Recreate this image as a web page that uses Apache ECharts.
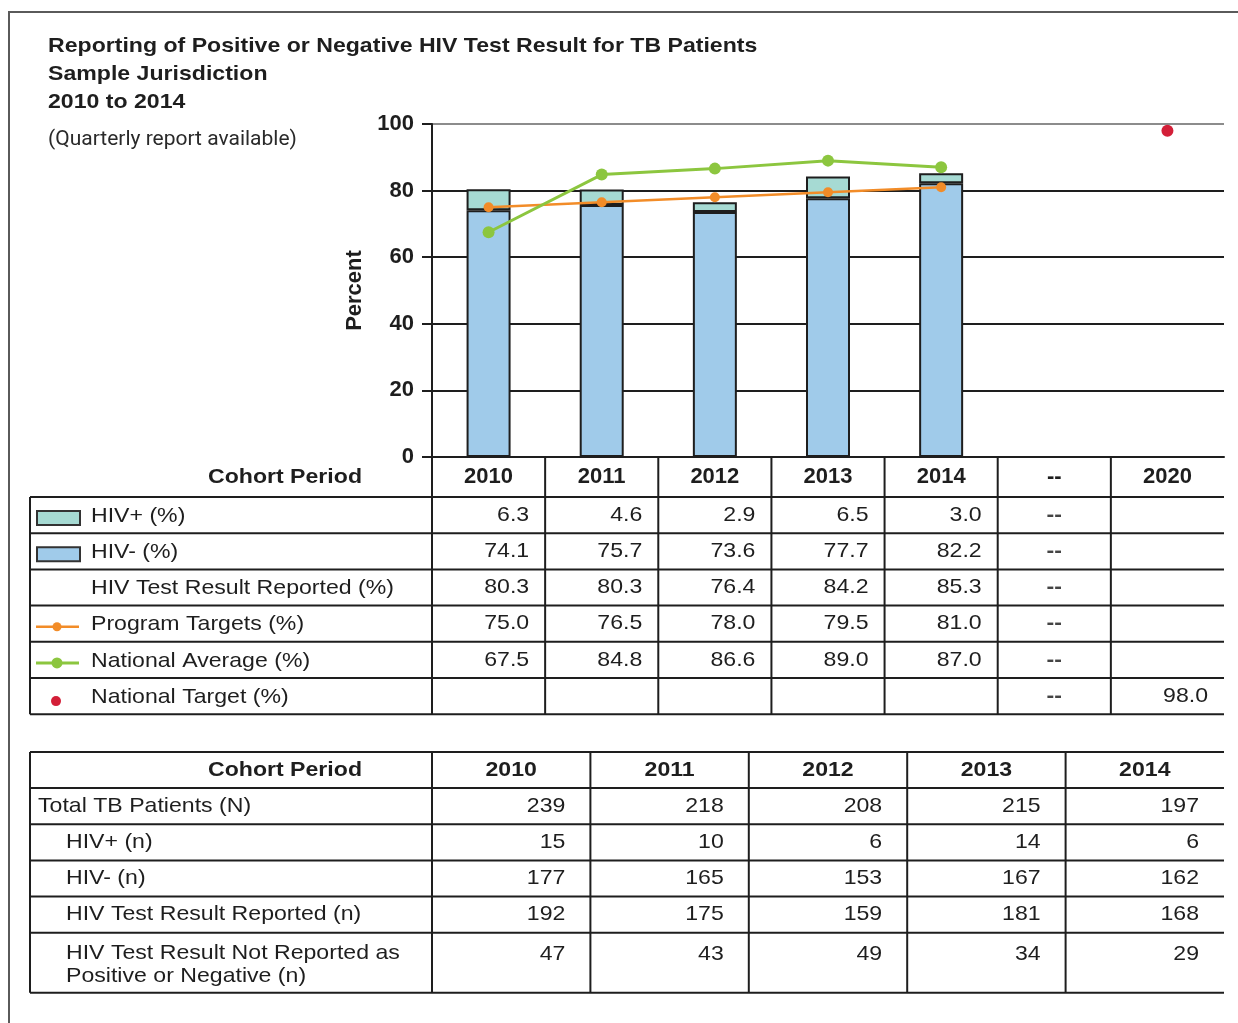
<!DOCTYPE html>
<html lang="en">
<head>
<meta charset="UTF-8">
<title>HIV Test Result Reporting - TB Patients</title>
<script src="https://cdn.jsdelivr.net/npm/echarts@6/dist/echarts.min.js"></script>
<style>
    html, body { margin: 0; padding: 0; background: #fff; }
    #main { width: 1238px; height: 1023px; }
</style>
</head>
<body>
<div id="main"></div>
<script>
    // x axis categories (also the header row of the percent table)
    var periods = ['2010', '2011', '2012', '2013', '2014', '--', '2020'];
    var hivPos = [6.3, 4.6, 2.9, 6.5, 3.0];
    var hivNeg = [74.1, 75.7, 73.6, 77.7, 82.2];
    var reported = [80.3, 80.3, 76.4, 84.2, 85.3];
    var programTargets = [75.0, 76.5, 78.0, 79.5, 81.0];
    var nationalAverage = [67.5, 84.8, 86.6, 89.0, 87.0];
    var nationalTarget = 98.0; // 2020

    // counts table
    var countYears = ['2010', '2011', '2012', '2013', '2014'];
    var totalPatients = [239, 218, 208, 215, 197];
    var hivPosN = [15, 10, 6, 14, 6];
    var hivNegN = [177, 165, 153, 167, 162];
    var reportedN = [192, 175, 159, 181, 168];
    var notReportedN = [47, 43, 49, 34, 29];

    var FONT = '"Liberation Sans", Arial, Helvetica, sans-serif';
    var INK = '#1e1e1e';
    var C_NEG = '#a0cbea';
    var C_POS = '#a6dad3';
    var C_ORANGE = '#f28c28';
    var C_GREEN = '#8cc63f';
    var C_RED = '#d31f38';

    var chart = echarts.init(document.getElementById('main'));

    var option = {
        animation: false,
        backgroundColor: '#fff',
        grid: { left: 432, right: 14, top: 124, bottom: 566, containLabel: false, outerBoundsMode: 'none' },
        xAxis: {
            type: 'category',
            data: periods,
            axisLine: { lineStyle: { color: INK, width: 2 } },
            axisTick: { show: false },
            axisLabel: { interval: 0, fontFamily: FONT, fontSize: 22, fontWeight: 'bold', color: INK, margin: 9 },
            z: 5
        },
        yAxis: {
            type: 'value',
            min: 0,
            max: 100,
            interval: 20,
            name: 'Percent',
            nameLocation: 'middle',
            nameRotate: 90,
            nameGap: 66,
            nameTextStyle: { fontFamily: FONT, fontSize: 22, fontWeight: 'bold', color: INK },
            axisLine: { show: true, lineStyle: { color: INK, width: 2 } },
            axisTick: { show: true, length: 10, lineStyle: { color: INK, width: 2 } },
            axisLabel: { fontFamily: FONT, fontSize: 22, fontWeight: 'bold', color: INK, margin: 18 },
            splitLine: { lineStyle: { color: [INK, INK, INK, INK, INK, '#8c8c8c'], width: 2 } }
        },
        series: [
            {
                name: 'HIV- (%)', type: 'bar', stack: 'pct', barWidth: 44, data: hivNeg,
                itemStyle: { color: C_NEG, borderColor: INK, borderWidth: 2 }
            },
            {
                name: 'HIV+ (%)', type: 'bar', stack: 'pct', barWidth: 44, data: hivPos,
                itemStyle: { color: C_POS, borderColor: INK, borderWidth: 2 }
            },
            {
                name: 'Program Targets (%)', type: 'line', data: programTargets,
                symbol: 'circle', symbolSize: 10, z: 4,
                lineStyle: { color: C_ORANGE, width: 2.5 }, itemStyle: { color: C_ORANGE }
            },
            {
                name: 'National Average (%)', type: 'line', data: nationalAverage,
                symbol: 'circle', symbolSize: 12, z: 4,
                lineStyle: { color: C_GREEN, width: 3 }, itemStyle: { color: C_GREEN }
            },
            {
                name: 'National Target (%)', type: 'scatter', data: [[periods[6], nationalTarget]],
                symbolSize: 12, itemStyle: { color: C_RED, opacity: 1 }, z: 4
            }
        ]
    };
    chart.setOption(option);

    // text helper for table cells and titles
    function txt(x, y, s, align, bold, extra) {
        var el = {
            type: 'text', x: x, y: y, scaleX: 1.1, z: 20,
            style: {
                text: s, fill: INK, fontFamily: FONT, fontSize: 21,
                fontWeight: bold ? 'bold' : 'normal',
                align: align, verticalAlign: 'middle', lineHeight: 23
            }
        };
        if (extra) { for (var k in extra) el.style[k] = extra[k]; }
        return el;
    }
    function seg(x1, y1, x2, y2, color, w) {
        return { type: 'line', z: 15, shape: { x1: x1, y1: y1, x2: x2, y2: y2 }, style: { stroke: color || INK, lineWidth: w || 2 } };
    }

    function buildTables() {
        var g = [];
        var c0 = chart.convertToPixel({ xAxisIndex: 0 }, periods[0]);
        var step = chart.convertToPixel({ xAxisIndex: 0 }, periods[1]) - c0;
        var edges = periods.map(function (p) { return chart.convertToPixel({ xAxisIndex: 0 }, p) - step / 2; });
        edges.push(edges[edges.length - 1] + step);
        var axisY = chart.convertToPixel({ yAxisIndex: 0 }, 0);
        var plotL = edges[0], plotR = edges[edges.length - 1];
        var tabL = 30, rowH = 36.2;

        // frame
        g.push({ type: 'rect', z: 1, shape: { x: 9, y: 12, width: 1300, height: 1100 }, style: { fill: null, stroke: '#5a5a5a', lineWidth: 2 } });

        // titles
        g.push(txt(48, 46, 'Reporting of Positive or Negative HIV Test Result for TB Patients', 'left', true));
        g.push(txt(48, 74, 'Sample Jurisdiction', 'left', true));
        g.push(txt(48, 102, '2010 to 2014', 'left', true));
        var sub = txt(48, 140, '(Quarterly report available)', 'left', false, { fontFamily: 'Roboto, sans-serif', fontSize: 21, fill: '#2a2a2a' });
        sub.scaleX = 1;
        g.push(sub);

        // ---- percent table ----
        var t1Top = axisY + 40;
        var t1Rows = 6;
        var t1Bot = t1Top + rowH * t1Rows;
        for (var r = 0; r <= t1Rows; r++) g.push(seg(tabL, t1Top + r * rowH, plotR, t1Top + r * rowH));
        g.push(seg(tabL, t1Top, tabL, t1Bot));
        for (var e = 0; e < edges.length - 1; e++) g.push(seg(edges[e], axisY, edges[e], t1Bot));
        g.push(txt(285, axisY + 20, 'Cohort Period', 'center', true));

        var t1Labels = ['HIV+ (%)', 'HIV- (%)', 'HIV Test Result Reported (%)', 'Program Targets (%)', 'National Average (%)', 'National Target (%)'];
        var t1Values = [hivPos, hivNeg, reported, programTargets, nationalAverage, []];
        for (r = 0; r < t1Rows; r++) {
            var cy = t1Top + r * rowH + rowH / 2;
            g.push(txt(91, cy + 1, t1Labels[r], 'left', false));
            for (var i = 0; i < t1Values[r].length; i++) {
                g.push(txt(edges[i + 1] - 16, cy, t1Values[r][i].toFixed(1), 'right', false));
            }
            g.push(txt((edges[5] + edges[6]) / 2, cy, periods[5], 'center', true, { fill: '#444' }));
        }
        g.push(txt(edges[7] - 16, t1Top + 5 * rowH + rowH / 2, nationalTarget.toFixed(1), 'right', false));

        // legend keys inside the table
        var ky = function (row) { return t1Top + row * rowH + rowH / 2; };
        g.push({ type: 'rect', z: 16, shape: { x: 37, y: ky(0) - 4, width: 43, height: 14 }, style: { fill: C_POS, stroke: '#333', lineWidth: 2 } });
        g.push({ type: 'rect', z: 16, shape: { x: 37, y: ky(1) - 4, width: 43, height: 14 }, style: { fill: C_NEG, stroke: '#333', lineWidth: 2 } });
        g.push(seg(36, ky(3) + 3, 79, ky(3) + 3, C_ORANGE, 2.5));
        g.push({ type: 'circle', z: 16, shape: { cx: 57, cy: ky(3) + 3, r: 4.5 }, style: { fill: C_ORANGE } });
        g.push(seg(36, ky(4) + 3, 79, ky(4) + 3, C_GREEN, 3));
        g.push({ type: 'circle', z: 16, shape: { cx: 57, cy: ky(4) + 3, r: 5.5 }, style: { fill: C_GREEN } });
        g.push({ type: 'circle', z: 16, shape: { cx: 56, cy: ky(5) + 5, r: 5 }, style: { fill: C_RED } });

        // ---- counts table ----
        var t2Top = 752;
        var hdrH = 36;
        var t2Lines = [t2Top, t2Top + hdrH];
        for (r = 1; r <= 4; r++) t2Lines.push(t2Top + hdrH + r * rowH);
        t2Lines.push(t2Lines[t2Lines.length - 1] + 60);
        var t2Bot = t2Lines[t2Lines.length - 1];
        t2Lines.forEach(function (y) { g.push(seg(tabL, y, plotR, y)); });
        var colW = (plotR - plotL) / countYears.length;
        g.push(seg(tabL, t2Top, tabL, t2Bot));
        for (i = 0; i < countYears.length; i++) g.push(seg(plotL + i * colW, t2Top, plotL + i * colW, t2Bot));

        g.push(txt(285, t2Top + hdrH / 2, 'Cohort Period', 'center', true));
        countYears.forEach(function (yr, k) {
            g.push(txt(plotL + (k + 0.5) * colW, t2Top + hdrH / 2, yr, 'center', true));
        });
        var t2Labels = ['Total TB Patients (N)', 'HIV+ (n)', 'HIV- (n)', 'HIV Test Result Reported (n)', 'HIV Test Result Not Reported as\nPositive or Negative (n)'];
        var t2Values = [totalPatients, hivPosN, hivNegN, reportedN, notReportedN];
        for (r = 0; r < t2Labels.length; r++) {
            var top = t2Lines[r + 1];
            var last = r === t2Labels.length - 1;
            var yy = last ? top + 21 : top + rowH / 2;
            var lx = r === 0 ? 38 : 66;
            if (last) {
                g.push(txt(lx, top + 9, t2Labels[r], 'left', false, { verticalAlign: 'top' }));
            } else {
                g.push(txt(lx, yy, t2Labels[r], 'left', false));
            }
            for (i = 0; i < t2Values[r].length; i++) {
                g.push(txt(plotL + (i + 1) * colW - 25, yy, String(t2Values[r][i]), 'right', false));
            }
        }
        // y axis carried down through the percent table
        g.push(seg(plotL, axisY, plotL, t1Bot));
        return g;
    }

    chart.setOption({ graphic: { elements: buildTables() } });
</script>
</body>
</html>
